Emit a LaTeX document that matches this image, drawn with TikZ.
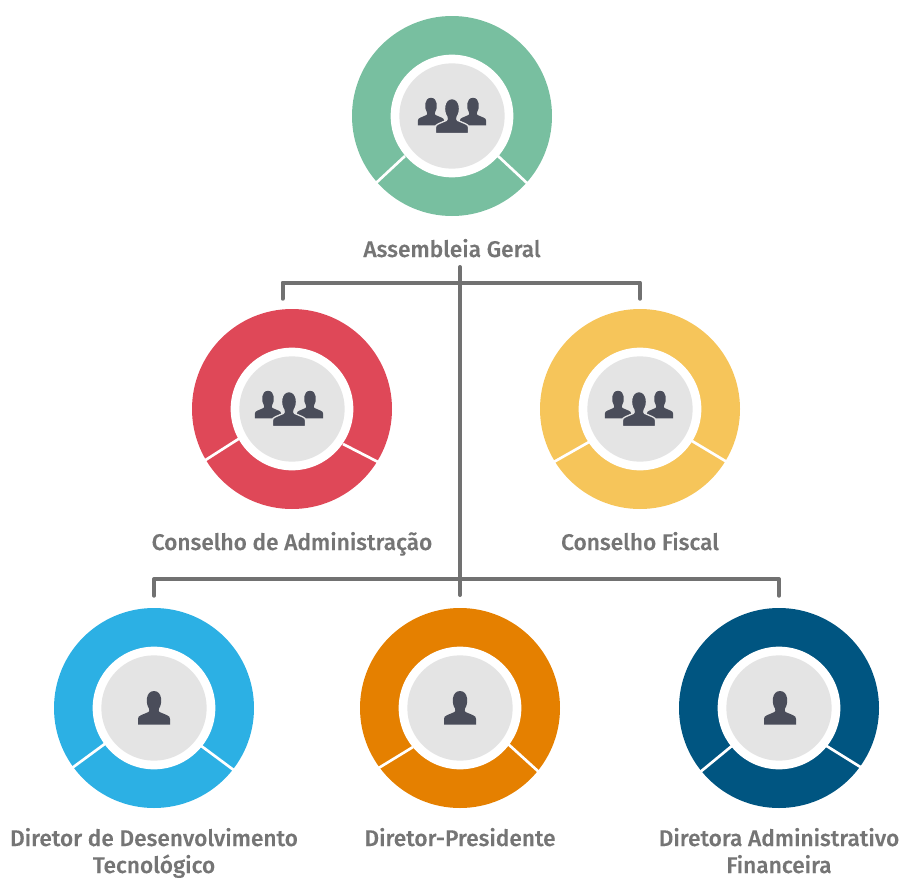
\documentclass[tikz,border=0pt]{standalone}
\usepackage{fontspec}
\setmainfont{Fira Sans}[BoldFont={Fira Sans Medium},BoldFeatures={FakeBold=0.25}]
\definecolor{cgreen}{HTML}{78BFA0}
\definecolor{cred}{HTML}{DF4858}
\definecolor{cyellow}{HTML}{F6C55A}
\definecolor{cblue}{HTML}{2CB0E4}
\definecolor{corange}{HTML}{E58000}
\definecolor{cnavy}{HTML}{005581}
\definecolor{cdisc}{HTML}{E4E4E4}
\definecolor{cicon}{HTML}{4A4D5A}
\definecolor{ctext}{HTML}{757575}
\definecolor{cline}{HTML}{717171}
\tikzset{
  px/.style={x=0.75pt,y=-0.75pt},
  outerring/.style={circle,inner sep=0pt,minimum size=150pt,fill=#1},
  whitering/.style={circle,inner sep=0pt,minimum size=92pt,fill=white},
  greydisc/.style={circle,inner sep=0pt,minimum size=79pt,fill=cdisc},
  gapline/.style={white,line width=2pt},
  treeline/.style={cline,line width=3pt,line cap=round,line join=round},
  lab/.style={text=ctext,font=\fontsize{17}{20.25}\selectfont\bfseries,align=center,inner sep=0pt,anchor=base},
  halo/.style={draw=cdisc,line width=1pt},
  person/.pic={
    \path[fill=cicon,px,pers/.try]
      (-16,23.5) -- (-16,18) .. controls (-16,16) and (-15,15) .. (-13,14.2)
      -- (-5.5,11) .. controls (-4.5,10.5) and (-4.5,9) .. (-5,7.5)
      .. controls (-8.5,3) and (-8.5,-10) .. (0,-10)
      .. controls (8.5,-10) and (8.5,3) .. (5,7.5)
      .. controls (4.5,9) and (4.5,10.5) .. (5.5,11)
      -- (13,14.2) .. controls (15,15) and (16,16) .. (16,18)
      -- (16,23.5) -- cycle;
  }
}
\newcommand{\ringunit}[6]{%
  \node[outerring=#2] (#1) at (#3,#4) {};
  \draw[gapline] #5;
  \draw[gapline] #6;
  \node[whitering] (#1w) at (#1.center) {};
  \node[greydisc] (#1d) at (#1.center) {};
}
\newcommand{\trio}[2]{%
  \pic[scale=0.82] at (#1-21,#2-3) {person};
  \pic[scale=0.82] at (#1+21,#2-3) {person};
  \pic[scale=1.04,pers/.style={halo}] at (#1,#2) {person};
}
\begin{document}
\begin{tikzpicture}[px]
\useasboundingbox (0,0) rectangle (900,878);
\ringunit{ag}{cgreen}{452}{116}{{(405,156) -- (376,183)}}{{(498,156) -- (528,184)}}
\ringunit{ca}{cred}{292}{409}{{(240,438) -- (204,461)}}{{(343,444) -- (380,463)}}
\ringunit{cf}{cyellow}{640}{409}{{(589,442) -- (552,463)}}{{(692,441) -- (727,462)}}
\ringunit{dd}{cblue}{154}{708}{{(106,743) -- (72,768)}}{{(200,745) -- (235,771)}}
\ringunit{dp}{corange}{460}{708}{{(413,747) -- (377,769)}}{{(507,743) -- (540,773)}}
\ringunit{da}{cnavy}{779}{708}{{(733,745) -- (699,773)}}{{(825,745) -- (862,768)}}
\trio{452}{109}
\trio{289}{402}
\trio{639}{402}
\pic at (154,701) {person};
\pic at (460,701) {person};
\pic at (780,701) {person};
\node[lab] (lag) at (452,257) {Assembleia Geral};
\node[lab] (lca) at (292,550) {Conselho de Administração};
\node[lab] (lcf) at (640,550) {Conselho Fiscal};
\node[lab] (ldd) at (154,873) {Diretor de Desenvolvimento\\Tecnológico};
\node[lab] (ldp) at (460,846) {Diretor-Presidente};
\node[lab] (lda) at (779,873) {Diretora Administrativo\\Financeira};
\coordinate (trunktop) at (460,267);
\coordinate (trunkbot) at (460,595);
\coordinate (j1) at (460,282.5);
\coordinate (j2) at (460,579);
\draw[treeline] (trunktop) -- (trunkbot);
\draw[treeline] (ca.north) ++(-9.5,-10) coordinate (s1) -- (s1 |- j1) -- (j1);
\draw[treeline] (cf.north) ++(0,-10) coordinate (s2) -- (s2 |- j1) -- (j1);
\draw[treeline] (dd.north) ++(0,-12) coordinate (s3) -- (s3 |- j2) -- (j2);
\draw[treeline] (da.north) ++(0,-12) coordinate (s4) -- (s4 |- j2) -- (j2);
\end{tikzpicture}
\end{document}
